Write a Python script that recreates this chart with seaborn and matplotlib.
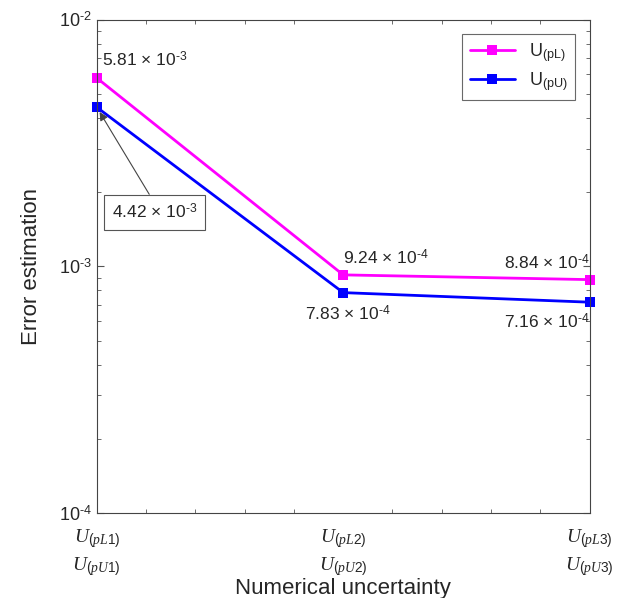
import numpy as np
import pandas as pd
import matplotlib
matplotlib.use("Agg")
import matplotlib.pyplot as plt
import seaborn as sns

# data
positions = [1, 2, 3]
u_pL = [5.81e-3, 9.24e-4, 8.84e-4]
u_pU = [4.42e-3, 7.83e-4, 7.16e-4]
series_names = [r"U$_{\mathrm{(pL)}}$", r"U$_{\mathrm{(pU)}}$"]
tick_labels = ["$U_{(pL1)}$\n$U_{(pU1)}$",
               "$U_{(pL2)}$\n$U_{(pU2)}$",
               "$U_{(pL3)}$\n$U_{(pU3)}$"]
pL_labels = [r"5.81 $\times$ 10$^{\text{-}3}$", r"9.24 $\times$ 10$^{\text{-}4}$",
             r"8.84 $\times$ 10$^{\text{-}4}$"]
pU_labels = [r"4.42 $\times$ 10$^{\text{-}3}$", r"7.83 $\times$ 10$^{\text{-}4}$",
             r"7.16 $\times$ 10$^{\text{-}4}$"]
y_labels = [r"10$^{\text{-}4}$", r"10$^{\text{-}3}$", r"10$^{\text{-}2}$"]

sns.set_style("white")
plt.rcParams["font.family"] = ["Liberation Sans", "DejaVu Sans"]
plt.rcParams["mathtext.fontset"] = "custom"
plt.rcParams["mathtext.rm"] = "Liberation Sans"
plt.rcParams["mathtext.it"] = "Liberation Serif:italic"
plt.rcParams["axes.unicode_minus"] = False

df = pd.DataFrame({
    "x": positions * 2,
    "y": u_pL + u_pU,
    "series": [series_names[0]] * 3 + [series_names[1]] * 3,
})

fig = plt.figure(figsize=(6.28, 5.98), dpi=100)
ax = fig.add_axes([0.154, 0.142, 0.785, 0.825])

sns.lineplot(data=df, x="x", y="y", hue="series",
             palette=["#ff00ff", "#0000ff"], marker="s", markersize=7,
             markeredgewidth=0, linewidth=2, ax=ax, clip_on=False)
ax.set_yscale("log")
ax.set_xlim(1, 3)
ax.set_ylim(1e-4, 1e-2)

ax.set_xticks(positions)
ax.set_xticklabels(tick_labels, fontsize=14, linespacing=1.35)
ax.set_xticks(np.arange(1, 3.01, 0.2), minor=True)
ax.set_yticks([1e-4, 1e-3, 1e-2])
ax.set_yticklabels(y_labels, fontsize=13)
ax.tick_params(which="both", direction="in", top=True, right=True,
               bottom=True, left=True, color="#555555")
ax.tick_params(which="major", length=5)
ax.tick_params(which="minor", length=3)
ax.tick_params(axis="x", which="major", length=0, pad=10)
for s in ax.spines.values():
    s.set_color("#444444")
    s.set_linewidth(0.8)

ax.set_xlabel("Numerical uncertainty", fontsize=16, labelpad=0)
ax.set_ylabel("Error estimation", fontsize=16, labelpad=12)

# value labels
ax.text(1.02, 6.3e-3, pL_labels[0], fontsize=12.5, ha="left", va="bottom")
ax.text(2.0, 9.9e-4, pL_labels[1], fontsize=12.5, ha="left", va="bottom")
ax.text(3.0, 9.5e-4, pL_labels[2], fontsize=12.5, ha="right", va="bottom")
ax.text(2.02, 7.0e-4, pU_labels[1], fontsize=12.5, ha="center", va="top")
ax.text(3.0, 6.5e-4, pU_labels[2], fontsize=12.5, ha="right", va="top")
ax.annotate(pU_labels[0], xy=(positions[0], u_pU[0]), xytext=(1.06, 1.66e-3),
            fontsize=12.5, ha="left", va="center",
            bbox=dict(boxstyle="square,pad=0.45", fc="white", ec="#555555", lw=0.8),
            arrowprops=dict(arrowstyle="-|>", color="#444444", lw=0.8,
                            shrinkA=0, shrinkB=4, relpos=(0.5, 1.0)))

leg = ax.legend(loc="upper right", fontsize=13, frameon=True, fancybox=False,
                handlelength=2.5, borderaxespad=0.8, labelspacing=0.3)
leg.get_frame().set_edgecolor("#444444")
leg.get_frame().set_linewidth(0.8)

fig.savefig("out.png", dpi=100)
